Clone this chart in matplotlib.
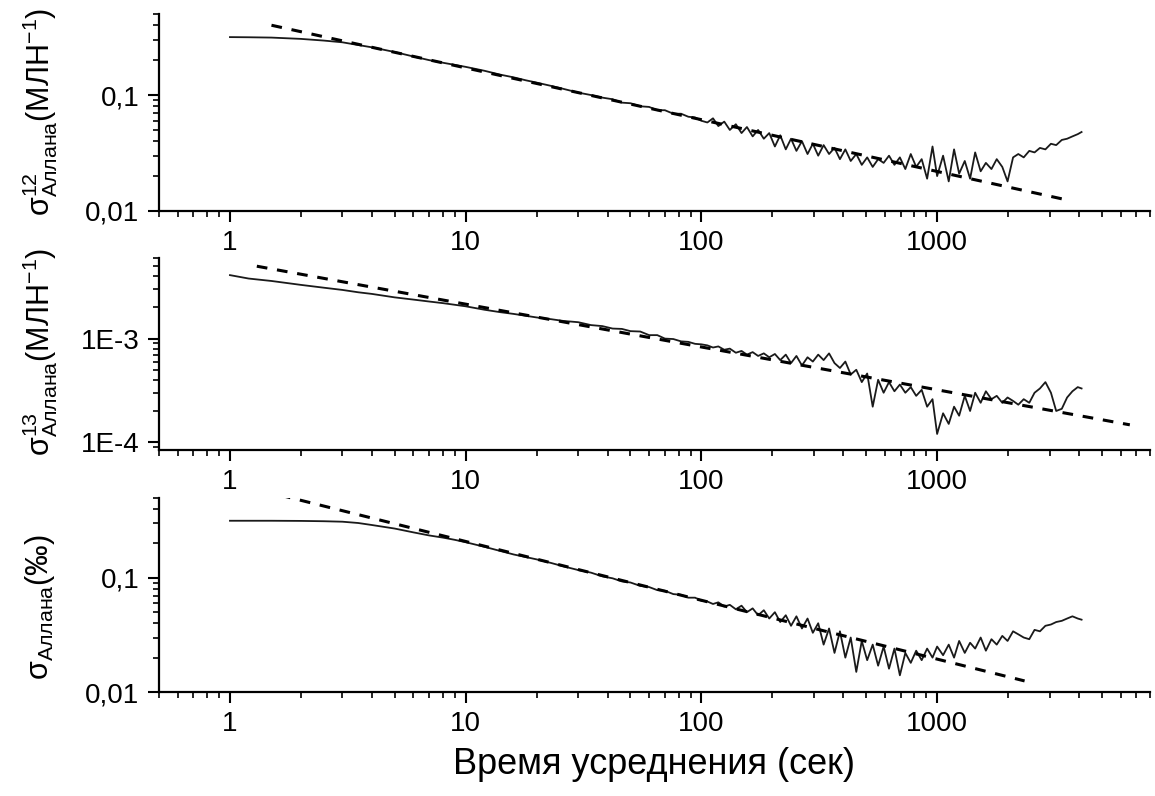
import matplotlib
matplotlib.use("Agg")
import matplotlib.pyplot as plt
from matplotlib.ticker import FixedLocator, LogLocator, NullFormatter

plt.rcParams['font.family'] = ['Liberation Sans', 'DejaVu Sans']
plt.rcParams['mathtext.fontset'] = 'custom'
plt.rcParams['mathtext.rm'] = 'Liberation Sans'
plt.rcParams['mathtext.it'] = 'Liberation Sans:italic'
plt.rcParams['mathtext.bf'] = 'Liberation Sans:bold'
plt.rcParams['mathtext.sf'] = 'Liberation Sans'

# ---------------- data ----------------
tau = [1, 1.2, 1.5, 2, 2.5, 3, 3.5, 4, 5, 6, 7, 8, 9, 10, 12, 14, 16, 18, 20, 23,
       26, 30, 34, 38, 42, 46, 50, 55, 60, 65, 70, 76, 82, 88, 94, 100,
       106, 112, 118, 125, 132, 140, 148, 156, 165, 174,
       184, 194, 205, 216, 228, 240, 253, 267, 282, 297,
       313, 330, 348, 367, 387, 408, 430, 454, 479, 505,
       533, 562, 593, 625, 659, 695, 733, 773, 815, 860,
       907, 956, 1000, 1060, 1120, 1180, 1240, 1310, 1380, 1450,
       1530, 1610, 1700, 1790, 1890, 1990, 2100, 2210, 2330, 2460,
       2590, 2730, 2880, 3040, 3200, 3380, 3560, 3750, 3950, 4100]

sigma12 = [0.316, 0.315, 0.313, 0.305, 0.295, 0.285, 0.270, 0.258, 0.235, 0.215,
           0.200, 0.190, 0.182, 0.175, 0.162, 0.150, 0.142, 0.134, 0.128, 0.120,
           0.113, 0.105, 0.100, 0.095, 0.092, 0.086, 0.085, 0.080, 0.079, 0.074,
           0.074, 0.069, 0.069, 0.065, 0.064, 0.060,
           0.058, 0.063, 0.054, 0.059, 0.050, 0.056, 0.047, 0.053, 0.044, 0.050,
           0.042, 0.047, 0.036, 0.045, 0.034, 0.042, 0.033, 0.040, 0.031, 0.038,
           0.030, 0.037, 0.031, 0.035, 0.028, 0.034, 0.027, 0.031, 0.025, 0.029,
           0.024, 0.028, 0.026, 0.030, 0.025, 0.029, 0.023, 0.031, 0.024, 0.028,
           0.019, 0.036, 0.020, 0.030, 0.018, 0.034, 0.021, 0.027, 0.019, 0.032,
           0.022, 0.026, 0.023, 0.028, 0.024, 0.018, 0.029, 0.031, 0.029, 0.033,
           0.032, 0.035, 0.034, 0.038, 0.037, 0.041, 0.042, 0.044, 0.046, 0.048]

sigma13 = [4.1e-3, 3.8e-3, 3.6e-3, 3.3e-3, 3.1e-3, 2.95e-3, 2.8e-3, 2.7e-3, 2.5e-3, 2.38e-3,
           2.28e-3, 2.2e-3, 2.12e-3, 2.05e-3, 1.9e-3, 1.8e-3, 1.73e-3, 1.66e-3, 1.6e-3, 1.54e-3,
           1.48e-3, 1.44e-3, 1.35e-3, 1.32e-3, 1.25e-3, 1.24e-3, 1.18e-3, 1.17e-3, 1.08e-3, 1.08e-3,
           1.0e-3, 0.99e-3, 0.94e-3, 0.93e-3, 0.89e-3, 0.88e-3,
           0.86e-3, 0.82e-3, 0.84e-3, 0.78e-3, 0.80e-3, 0.73e-3, 0.76e-3, 0.70e-3, 0.74e-3, 0.68e-3,
           0.72e-3, 0.66e-3, 0.71e-3, 0.62e-3, 0.70e-3, 0.58e-3, 0.68e-3, 0.55e-3, 0.66e-3, 0.60e-3,
           0.70e-3, 0.62e-3, 0.72e-3, 0.58e-3, 0.52e-3, 0.60e-3, 0.45e-3, 0.50e-3, 0.38e-3, 0.46e-3,
           0.22e-3, 0.40e-3, 0.30e-3, 0.38e-3, 0.31e-3, 0.36e-3, 0.30e-3, 0.34e-3, 0.28e-3, 0.32e-3,
           0.22e-3, 0.26e-3, 0.12e-3, 0.19e-3, 0.15e-3, 0.22e-3, 0.18e-3, 0.28e-3, 0.20e-3, 0.30e-3,
           0.24e-3, 0.31e-3, 0.26e-3, 0.28e-3, 0.24e-3, 0.27e-3, 0.25e-3, 0.23e-3, 0.26e-3, 0.24e-3,
           0.30e-3, 0.33e-3, 0.38e-3, 0.30e-3, 0.20e-3, 0.21e-3, 0.27e-3, 0.31e-3, 0.34e-3, 0.33e-3]

sigma_d = [0.316, 0.316, 0.316, 0.315, 0.313, 0.310, 0.302, 0.290, 0.270, 0.250,
           0.235, 0.225, 0.215, 0.205, 0.187, 0.172, 0.160, 0.152, 0.145, 0.135,
           0.126, 0.117, 0.111, 0.103, 0.099, 0.093, 0.091, 0.085, 0.083, 0.078,
           0.077, 0.072, 0.071, 0.067, 0.067, 0.063,
           0.062, 0.059, 0.061, 0.056, 0.058, 0.053, 0.057, 0.050, 0.054, 0.047,
           0.052, 0.044, 0.050, 0.041, 0.047, 0.038, 0.046, 0.036, 0.044, 0.033,
           0.040, 0.026, 0.036, 0.022, 0.034, 0.020, 0.030, 0.015, 0.028, 0.019,
           0.026, 0.017, 0.025, 0.016, 0.024, 0.014, 0.022, 0.018, 0.023, 0.019,
           0.024, 0.020, 0.025, 0.021, 0.026, 0.020, 0.028, 0.022, 0.027, 0.024,
           0.030, 0.023, 0.029, 0.026, 0.031, 0.028, 0.034, 0.032, 0.030, 0.029,
           0.035, 0.034, 0.038, 0.039, 0.041, 0.042, 0.044, 0.046, 0.044, 0.043]

# fitted (dashed) lines: endpoints
fit12_x = [1.5, 3400]
fit12_y = [0.40, 0.0127]
fit13_x = [1.3, 6570]
fit13_y = [5.0e-3, 1.47e-4]
fitd_x = [1.63, 2350]
fitd_y = [0.53, 0.0125]

xticks = [1, 10, 100, 1000]
xticklabels = ['1', '10', '100', '1000']

panels = [
    dict(y=sigma12, fx=fit12_x, fy=fit12_y, ylim=(0.01, 0.5),
         yt=[0.01, 0.1], ytl=['0,01', '0,1'],
         label=r'$\mathrm{σ}^{12}_{\mathrm{Аллана}}$(МЛН$^{-1}$)',
         px=(14, 211), lab_y=112),
    dict(y=sigma13, fx=fit13_x, fy=fit13_y, ylim=(8.4e-5, 6e-3),
         yt=[1e-4, 1e-3], ytl=['1E-4', '1E-3'],
         label=r'$\mathrm{σ}^{13}_{\mathrm{Аллана}}$(МЛН$^{-1}$)',
         px=(258, 450), lab_y=352),
    dict(y=sigma_d, fx=fitd_x, fy=fitd_y, ylim=(0.01, 0.5),
         yt=[0.01, 0.1], ytl=['0,01', '0,1'],
         label=r'$\mathrm{σ}_{\mathrm{Аллана}}$(‰)',
         px=(498, 692), lab_y=607),
]

W, H = 1155, 796
fig = plt.figure(figsize=(W / 100, H / 100), dpi=100)
left_px, right_px = 159, 1150

for p in panels:
    top, bot = p['px']
    ax = fig.add_axes([left_px / W, 1 - bot / H, (right_px - left_px) / W, (bot - top) / H])
    ax.set_xscale('log')
    ax.set_yscale('log')
    ax.plot(tau, p['y'], color='#1a1a1a', lw=1.3)
    ax.plot(p['fx'], p['fy'], color='black', lw=2.2, ls=(0, (3.5, 3.2)))
    ax.set_xlim(0.5, 8000)
    ax.set_ylim(*p['ylim'])
    for s in ['top', 'right']:
        ax.spines[s].set_visible(False)
    for s in ['left', 'bottom']:
        ax.spines[s].set_linewidth(1.6)
    ax.xaxis.set_major_locator(FixedLocator(xticks))
    ax.set_xticklabels(xticklabels)
    ax.xaxis.set_minor_locator(LogLocator(base=10, subs=[2, 3, 4, 5, 6, 7, 8, 9], numticks=30))
    ax.xaxis.set_minor_formatter(NullFormatter())
    ax.yaxis.set_major_locator(FixedLocator(p['yt']))
    ax.set_yticklabels(p['ytl'])
    ax.yaxis.set_minor_locator(LogLocator(base=10, subs=[2, 3, 4, 5, 6, 7, 8, 9], numticks=30))
    ax.yaxis.set_minor_formatter(NullFormatter())
    ax.tick_params(which='major', direction='out', length=8, width=1.5, labelsize=20, pad=6)
    ax.tick_params(which='minor', direction='out', length=4.5, width=1.2)
    fig.text(40 / W, 1 - p['lab_y'] / H, p['label'], rotation=90, ha='center', va='center',
             fontsize=22)

fig.text(654 / W, 1 - 765 / H, 'Время усреднения (сек)', ha='center', va='center', fontsize=26)

fig.savefig('out.png', dpi=100)
